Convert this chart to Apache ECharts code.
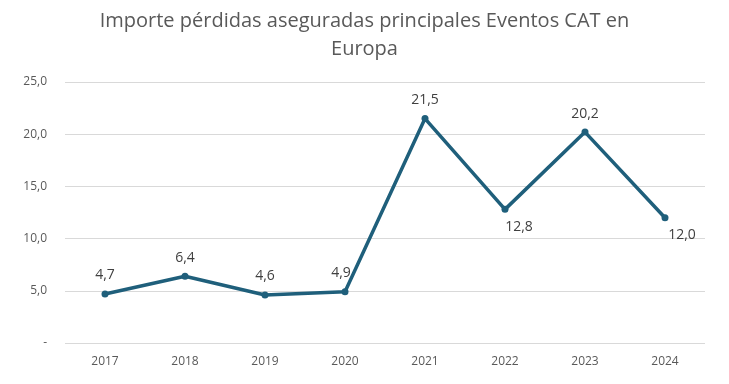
<!DOCTYPE html>
<html><head><meta charset="utf-8">
<script src="https://cdn.jsdelivr.net/npm/echarts@6/dist/echarts.min.js"></script>
<style>html,body{margin:0;padding:0;background:#fff}#c{width:729px;height:384px}</style>
</head><body><div id="c"></div>
<script>
const categories = ['2017','2018','2019','2020','2021','2022','2023','2024'];
const values = [4.7, 6.4, 4.6, 4.9, 21.5, 12.8, 20.2, 12.0];
const labelBelow = [false, false, false, false, false, true, false, true];
const labelShiftX = [0, 0, 0, -4, 0, 14, 0, 17];
const yTicks = [0, 5, 10, 15, 20, 25];
const titleLines = ['Importe pérdidas aseguradas principales Eventos CAT en', 'Europa'];

const fmt = v => v === 0 ? '-' : v.toFixed(1).replace('.', ',');
const FONT = '"Open Sans", sans-serif';
const titleStyle = {fontFamily: FONT, fontSize: 20, fontWeight: 'normal', color: '#595959'};

const chart = echarts.init(document.getElementById('c'), null, {renderer: 'canvas'});
chart.setOption({
  animation: false,
  title: [
    {text: titleLines[0], left: 'center', top: 11, padding: 0, textStyle: titleStyle},
    {text: titleLines[1], left: 'center', top: 39, padding: 0, textStyle: titleStyle}
  ],
  grid: {left: 65, right: 24, top: 82, bottom: 41},
  xAxis: {
    type: 'category', data: categories, boundaryGap: true,
    axisLine: {show: false}, axisTick: {show: false},
    axisLabel: {fontFamily: FONT, fontSize: 12, color: '#595959', margin: 13}
  },
  yAxis: {
    type: 'value', min: yTicks[0], max: yTicks[yTicks.length - 1], interval: 5,
    axisLine: {show: false}, axisTick: {show: false},
    splitLine: {lineStyle: {color: '#d9d9d9', width: 1}},
    axisLabel: {fontFamily: FONT, fontSize: 12, color: '#595959', margin: 18, formatter: fmt}
  },
  series: [{
    type: 'line',
    data: values.map((v, i) => ({
      value: v,
      label: {
        position: labelBelow[i] ? 'bottom' : 'top',
        distance: labelBelow[i] ? 7 : 8,
        offset: [labelShiftX[i], 0]
      }
    })),
    symbol: 'circle', symbolSize: 7,
    lineStyle: {color: '#1f5f7b', width: 3.5},
    itemStyle: {color: '#1f5f7b'},
    label: {show: true, fontFamily: FONT, fontSize: 14, color: '#404040', formatter: p => fmt(p.value)}
  }]
});
</script></body></html>
